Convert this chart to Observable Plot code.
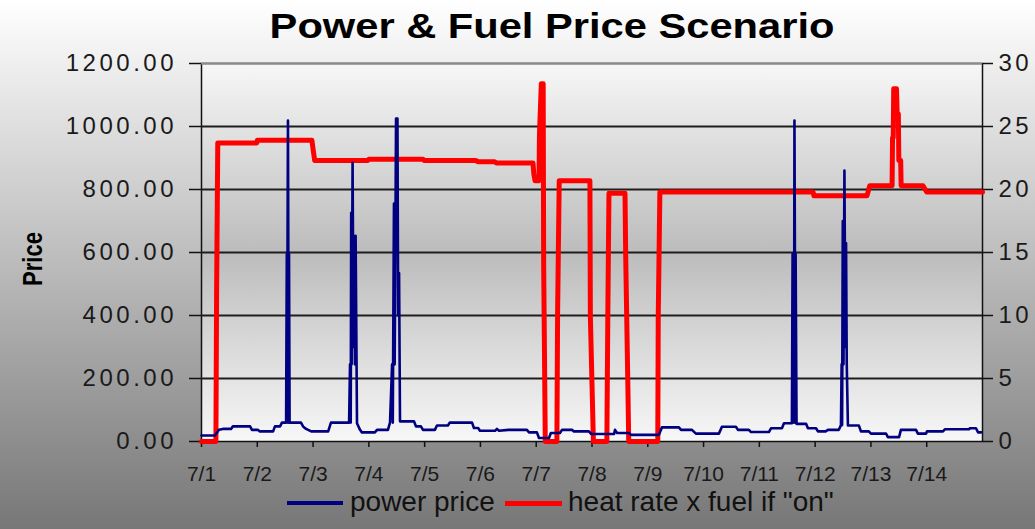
<!DOCTYPE html>
<html>
<head>
<meta charset="utf-8">
<script src="https://cdn.jsdelivr.net/npm/d3@7"></script>
<script src="https://cdn.jsdelivr.net/npm/@observablehq/plot@0.6"></script>
<style>
  html, body { margin: 0; padding: 0; }
  #wrap { position: relative; width: 1035px; height: 529px; overflow: hidden;
          background: linear-gradient(to bottom, #ffffff 0%, #777777 100%);
          font-family: "Liberation Sans", Arial, sans-serif; color: #111; }
  #chart { position: absolute; left: 0; top: 0; }
  .ov { position: absolute; white-space: nowrap; line-height: 1; }
  #title { left: 552px; top: 8px; font-size: 35px; font-weight: bold; color: #000;
           transform: translateX(-50%) scaleX(1.19); }
  #ylab { left: 33px; top: 259px; font-size: 22px; font-weight: bold; color: #000;
          transform: translate(-50%, -50%) rotate(-90deg) scaleY(1.25); }
  .sw { position: absolute; }
  .legtxt { font-size: 28px; color: #111; }
  g[aria-label="y-axis tick label"] text { letter-spacing: 3.5px; }
</style>
</head>
<body>
<div id="wrap">
  <div id="chart"></div>
  <div class="ov" id="title"></div>
  <div class="ov" id="ylab"></div>
  <div id="legend"></div>
</div>
<script>
// ---- data (hours since 7/1 00:00) ----
const titleText = "Power & Fuel Price Scenario";
const yAxisLabel = "Price";
const seriesNames = ["power price", "heat rate x fuel if \"on\""];
const seriesColors = ["#000080", "#ff0000"];
const dayLabels = ["7/1","7/2","7/3","7/4","7/5","7/6","7/7","7/8","7/9","7/10","7/11","7/12","7/13","7/14"];
const leftTicks = [0, 200, 400, 600, 800, 1000, 1200];
const rightTicks = [0, 5, 10, 15, 20, 25, 30];

const powerHours = [0,5.8,7.5,9.2,12.7,13.5,20.9,21.7,24.3,25,30.8,31.6,33.8,34.6,36.4,
  36.7,36.85,37.0,37.2,37.35,37.5,37.65,37.9,
  42.8,43.7,45.0,47.2,54.5,55.7,63.5,
  63.9,64.2,64.4,64.6,65.0,65.4,65.6,66.0,66.3,66.9,
  68.2,69.0,74.6,75.5,80.2,81.1,
  82.0,82.3,82.8,83.1,83.7,84.3,84.6,85.0,85.4,
  91.4,92.3,94.4,95.3,100.4,101.3,106.0,106.8,116.4,117.2,119.0,119.8,126.3,127.1,128.0,132,140.0,140.9,144.3,145.2,149.5,150.3,154.2,155.1,159.4,160.2,166.7,167.6,177.5,177.9,178.8,183.9,184.8,196.8,198.1,205.4,206.3,211.0,212.7,222.6,223.9,229.9,230.8,235.5,236.4,244.1,245.0,249.7,250.6,254.0,
  254.3,254.45,254.6,254.9,255.1,255.3,255.45,255.6,256.0,
  260.1,260.9,264.4,265.2,268.5,269.5,274.2,275.1,
  275.4,275.6,275.9,276.2,276.6,277.0,277.3,277.6,278.1,
  282.8,283.7,287.1,288.0,294.5,295.3,300.1,300.9,307.4,308.2,311.7,312.1,319.0,319.9,330.2,330.6,333.2,334.1,335.4];
const powerPrice = [19,19,37,40,40,48,48,37,37,32,32,48,48,60,60,
  595,60,595,1019,595,60,595,60,
  60,48,40,32,32,60,60,
  245,60,726,245,885,300,653,245,653,58,
  37,29,29,37,37,60,
  245,60,755,245,1025,1025,400,535,64,
  64,48,48,37,37,51,51,60,60,43,43,34,34,40,34,37,37,29,29,11,11,27,27,37,37,32,32,24,24,37,27,27,21,21,45,45,37,37,25,25,47,47,37,37,30,30,42,42,58,58,
  595,60,595,60,1019,595,60,595,56,
  56,42,42,32,32,37,37,52,
  245,52,700,245,860,300,630,245,51,
  51,32,32,25,25,14,14,37,37,25,25,32,32,39,39,42,42,29,29];

const heatHours = [0,6.2,6.5,7.0,23.8,24.0,47.5,48.0,48.7,71.5,72.0,95.3,95.8,118.0,119.0,126.0,127.0,142.6,143.0,143.5,145.2,145.4,146.2,147.0,147.2,147.9,152.9,153.2,153.9,167.1,167.3,168.6,174.4,174.8,175.3,182.2,182.5,183.4,183.8,196.3,196.5,197.2,263.1,263.5,286.3,287.5,297.1,297.3,297.6,297.8,299.0,299.3,299.8,300.0,300.8,301.0,310.4,312.0,336];
const heatRate = [0,0,11.9,23.7,23.7,23.9,23.9,23.2,22.3,22.3,22.4,22.4,22.3,22.3,22.2,22.2,22.1,22.1,21.2,20.7,20.7,24.4,28.4,28.4,14.2,0,0,10.2,20.7,20.7,9.9,0,0,9.9,19.7,19.7,14.7,4.8,0,0,9.9,19.8,19.8,19.5,19.5,20.3,20.3,24.1,24.1,28.0,28.0,26.0,26.0,22.3,22.3,20.3,20.3,19.8,19.8];

// ---- build ----
const start = Date.UTC(2002, 6, 1);
const toDate = h => new Date(start + h * 3600e3);
const RATIO = leftTicks[leftTicks.length - 1] / rightTicks[rightTicks.length - 1];
const power = powerHours.map((h, i) => ({date: toDate(h), value: powerPrice[i]}));
const heat = heatHours.map((h, i) => ({date: toDate(h), value: heatRate[i]}));
const dayTicks = dayLabels.map((_, i) => toDate(i * 24));
const fmtDay = d => dayLabels[Math.round((d - start) / 864e5)];

const chart = Plot.plot({
  width: 1035, height: 529,
  marginLeft: 201, marginRight: 53, marginTop: 63, marginBottom: 88,
  style: {background: "transparent", color: "#111", fontFamily: "'Liberation Sans', Arial, sans-serif", overflow: "visible"},
  x: {type: "utc", domain: [toDate(0), toDate(14 * 24)]},
  y: {domain: [0, 1200]},
  marks: [
    Plot.frame({fill: "url(#plotBg)", stroke: "#111", strokeWidth: 1.5}),
    Plot.gridY(leftTicks.slice(1, -1), {stroke: "#1e1e1e", strokeOpacity: 1, strokeWidth: 2}),
    Plot.gridY(leftTicks.slice(-1), {stroke: "#8c8c8c", strokeOpacity: 1, strokeWidth: 2}),
    Plot.axisY(leftTicks, {anchor: "left", tickSize: 12, tickPadding: 12.5, tickFormat: d3.format(".2f"), fontSize: 24, fill: "#1a1a1a", label: null, strokeWidth: 1.5}),
    Plot.axisY(leftTicks, {anchor: "right", tickSize: 10, tickPadding: 6, tickFormat: d => String(d / RATIO), fontSize: 24, fill: "#1a1a1a", label: null, strokeWidth: 1.5}),
    Plot.axisX(dayTicks, {anchor: "bottom", tickSize: 6, tickPadding: 19, tickFormat: fmtDay, fontSize: 21, fill: "#1a1a1a", label: null, strokeWidth: 1.5}),
    Plot.line(heat, {x: "date", y: d => d.value * RATIO, stroke: seriesColors[1], strokeWidth: 5}),
    Plot.line(power, {x: "date", y: "value", stroke: seriesColors[0], strokeWidth: 2.6})
  ]
});

// plot-area gradient
const ns = "http://www.w3.org/2000/svg";
const defs = document.createElementNS(ns, "defs");
defs.innerHTML = '<linearGradient id="plotBg" x1="0" y1="0" x2="0" y2="1">' +
  '<stop offset="0" stop-color="#f7f7f7"/><stop offset="0.5" stop-color="#bcbcbc"/><stop offset="1" stop-color="#f7f7f7"/></linearGradient>';
chart.insertBefore(defs, chart.firstChild);
document.getElementById("chart").appendChild(chart);

document.getElementById("title").textContent = titleText;
document.getElementById("ylab").textContent = yAxisLabel;

// legend
const legend = document.getElementById("legend");
const legItems = [
  {sx: 287, sw: 56, th: 3.5, tx: 350},
  {sx: 505, sw: 57, th: 5, tx: 568}
];
legItems.forEach((it, i) => {
  const s = document.createElement("div");
  s.className = "sw";
  s.style.cssText = `left:${it.sx}px;top:${503 - it.th / 2}px;width:${it.sw}px;height:${it.th}px;background:${seriesColors[i]};`;
  legend.appendChild(s);
  const t = document.createElement("div");
  t.className = "ov legtxt";
  t.style.left = it.tx + "px";
  t.style.top = "488px";
  t.textContent = seriesNames[i];
  legend.appendChild(t);
});
</script>
</body>
</html>
